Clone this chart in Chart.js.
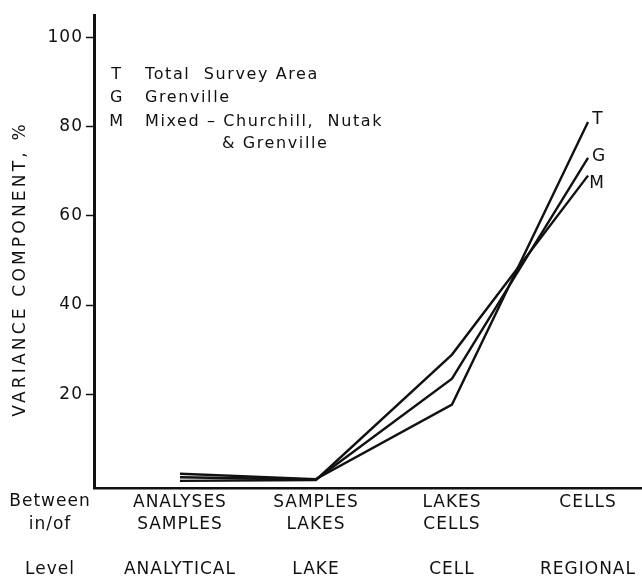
<!DOCTYPE html>
<html><head><meta charset="utf-8">
<script src="https://cdn.jsdelivr.net/npm/chart.js@4"></script>
<style>html,body{margin:0;padding:0;background:#fff}canvas{display:block}</style>
</head><body>
<canvas id="c" width="642" height="579"></canvas>
<script>
const levels = ["ANALYTICAL", "LAKE", "CELL", "REGIONAL"];
const betweenTop = ["ANALYSES", "SAMPLES", "LAKES", "CELLS"];
const betweenBottom = ["SAMPLES", "LAKES", "CELLS", ""];
const rowLabels = ["Between", "in/of", "Level"];
const yTicks = [20, 40, 60, 80, 100];
const yTitle = "VARIANCE COMPONENT, %";
const seriesCodes = ["T", "G", "M"];
const seriesNames = ["Total  Survey Area", "Grenville", "Mixed – Churchill,  Nutak"];
const legendExtra = "& Grenville";
const totalSurvey = [2.2, 1.0, 17.7, 81];
const grenville = [1.4, 0.9, 23.5, 73];
const mixed = [0.6, 0.8, 28.9, 69];

const FONT = '"DejaVu Sans", sans-serif';
const INK = '#111';
const toPts = arr => arr.map((v, i) => ({x: i + 1, y: v}));

const textPlugin = {
  id: 'texts',
  beforeDraw(chart) {
    const ctx = chart.ctx;
    ctx.save();
    ctx.fillStyle = '#fff';
    ctx.fillRect(0, 0, chart.width, chart.height);
    ctx.restore();
    ctx.letterSpacing = '1px';
  },
  afterDraw(chart) {
    const ctx = chart.ctx;
    ctx.save();
    ctx.fillStyle = INK;
    ctx.letterSpacing = '3.2px';
    // y-axis title
    ctx.save();
    ctx.translate(21, 269);
    ctx.rotate(-Math.PI / 2);
    ctx.font = '17px ' + FONT;
    ctx.textAlign = 'center';
    ctx.textBaseline = 'middle';
    ctx.fillText(yTitle, 0, 0);
    ctx.restore();
    // legend
    ctx.letterSpacing = '1.6px';
    ctx.font = '16px ' + FONT;
    ctx.textBaseline = 'middle';
    const ly = [75, 98, 122];
    seriesCodes.forEach((c, i) => {
      ctx.textAlign = 'center';
      ctx.fillText(c, 117, ly[i]);
      ctx.textAlign = 'left';
      ctx.fillText(seriesNames[i], 145, ly[i]);
    });
    ctx.fillText(legendExtra, 222, 144);
    // row labels
    ctx.letterSpacing = '1px';
    ctx.font = '17px ' + FONT;
    ctx.textAlign = 'center';
    const ry = [502, 525, 570];
    rowLabels.forEach((t, i) => ctx.fillText(t, 50, ry[i]));
    // series end labels
    ctx.font = '17px ' + FONT;
    const offs = [[10, -3], [11, -1], [9, 8]];
    chart.data.datasets.forEach((ds, i) => {
      const pts = chart.getDatasetMeta(i).data;
      const p = pts[pts.length - 1];
      ctx.fillText(seriesCodes[i], p.x + offs[i][0], p.y + offs[i][1]);
    });
    ctx.restore();
  }
};

const lineStyle = {borderColor: INK, borderWidth: 2.4, pointRadius: 0, tension: 0, fill: false};

new Chart(document.getElementById('c'), {
  type: 'line',
  data: {
    datasets: [
      Object.assign({label: seriesCodes[0], data: toPts(totalSurvey)}, lineStyle),
      Object.assign({label: seriesCodes[1], data: toPts(grenville)}, lineStyle),
      Object.assign({label: seriesCodes[2], data: toPts(mixed)}, lineStyle)
    ]
  },
  options: {
    responsive: false,
    animation: false,
    devicePixelRatio: 1,
    layout: {padding: {top: 15, right: 0, left: 0, bottom: 0}},
    plugins: {legend: {display: false}, tooltip: {enabled: false}},
    scales: {
      x: {
        type: 'linear',
        min: 0.368, max: 4.397,
        afterBuildTicks: s => { s.ticks = betweenTop.map((_, i) => ({value: i + 1})); },
        afterFit: s => { s.height = 91; },
        grid: {display: true, drawOnChartArea: false, drawTicks: false, color: 'rgba(0,0,0,0)'},
        border: {display: true, color: INK, width: 2.5},
        ticks: {
          autoSkip: false, maxRotation: 0, minRotation: 0, padding: 3,
          color: INK,
          font: {family: FONT, size: 17, lineHeight: 1.32},
          callback: v => { const i = Math.round(v) - 1; return [betweenTop[i], betweenBottom[i], "", levels[i]]; }
        }
      },
      y: {
        min: -1, max: 105,
        afterBuildTicks: s => { s.ticks = yTicks.map(v => ({value: v})); },
        afterFit: s => { s.width = 94; },
        grid: {display: true, drawOnChartArea: false, drawTicks: true, tickLength: 8, color: INK, tickWidth: 1.5},
        border: {display: true, color: INK, width: 3},
        ticks: {color: INK, padding: 3, font: {family: FONT, size: 17}}
      }
    }
  },
  plugins: [textPlugin]
});
</script>
</body></html>
